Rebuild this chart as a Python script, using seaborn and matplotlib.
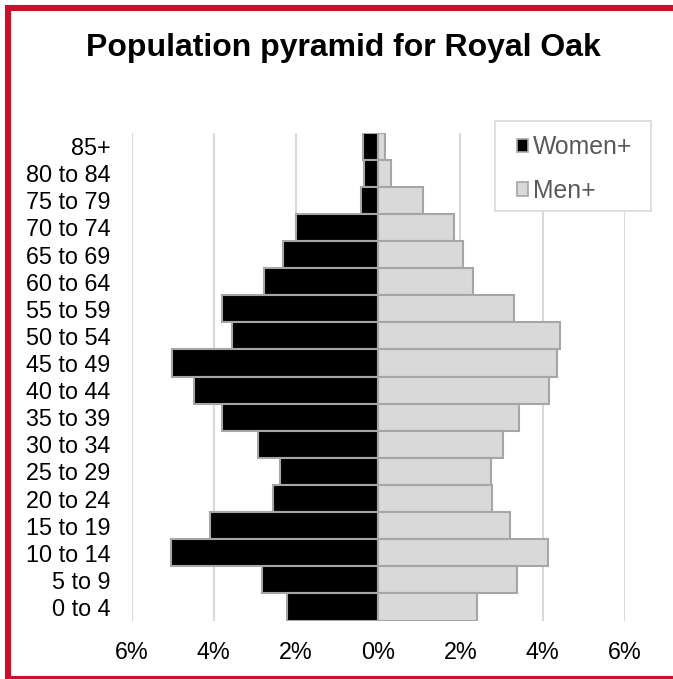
import matplotlib
matplotlib.use("Agg")
import matplotlib.pyplot as plt
from matplotlib.patches import Rectangle, Patch
import seaborn as sns
import pandas as pd

ages = ["85+", "80 to 84", "75 to 79", "70 to 74", "65 to 69", "60 to 64",
        "55 to 59", "50 to 54", "45 to 49", "40 to 44", "35 to 39", "30 to 34",
        "25 to 29", "20 to 24", "15 to 19", "10 to 14", "5 to 9", "0 to 4"]
women = [0.37, 0.35, 0.41, 2.01, 2.31, 2.79, 3.80, 3.57, 5.01, 4.49, 3.79,
         2.92, 2.40, 2.57, 4.09, 5.05, 2.84, 2.22]
men = [0.16, 0.32, 1.10, 1.84, 2.06, 2.31, 3.31, 4.43, 4.36, 4.15, 3.43,
       3.03, 2.74, 2.78, 3.21, 4.13, 3.39, 2.40]
xticks = [-6, -4, -2, 0, 2, 4, 6]
xticklabels = ["6%", "4%", "2%", "0%", "2%", "4%", "6%"]
series_names = ["Women+", "Men+"]

sns.set_style("white")
plt.rcParams['font.family'] = ['Liberation Sans', 'DejaVu Sans']

df = pd.DataFrame({"age": ages,
                   "women": [-v for v in women],
                   "men": men})

W, H = 673, 679
fig = plt.figure(figsize=(W / 100, H / 100), dpi=100)
left, right = 131.7 / W, 624.7 / W
bottom, top = 1 - 620.5 / H, 1 - 132.5 / H
ax = fig.add_axes([left, bottom, right - left, top - bottom])

women_col, men_col = "#000000", "#D9D9D9"
edge_col = "#A6A6A6"
sns.barplot(data=df, x="women", y="age", order=ages, orient="h", ax=ax,
            color=women_col, edgecolor=edge_col, linewidth=1.5, width=1.0,
            saturation=1, errorbar=None, zorder=3)
sns.barplot(data=df, x="men", y="age", order=ages, orient="h", ax=ax,
            color=men_col, edgecolor=edge_col, linewidth=1.5, width=1.0,
            saturation=1, errorbar=None, zorder=3)

fs = 16.8
ax.set_xlim(-6, 6)
ax.set_ylim(len(ages) - 0.5, -0.5)
ax.set_xticks(xticks)
ax.set_xticklabels(xticklabels, fontsize=fs, color="#000000")
ax.tick_params(axis="y", labelsize=fs, colors="#000000", length=0, pad=15.5)
ax.tick_params(axis="x", length=0, pad=15)
ax.set_xlabel("")
ax.set_ylabel("")
for s in ax.spines.values():
    s.set_visible(False)
ax.grid(False)
for xt in xticks:
    ax.axvline(xt, color="#D9D9D9", linewidth=1.5, zorder=1)

fig.text(343 / W, 1 - 48 / H, "Population pyramid for Royal Oak",
         ha="center", va="center", fontsize=23, fontweight="bold", color="#000000")

# legend frame drawn as its own box
frame = Rectangle((495 / W, 1 - 211 / H), (651 - 495) / W, (211 - 121) / H,
                  transform=fig.transFigure, facecolor="white",
                  edgecolor="#D9D9D9", linewidth=1.2, zorder=5)
fig.patches.append(frame)

handles = [Patch(facecolor=women_col, edgecolor=edge_col, linewidth=1.2),
           Patch(facecolor=men_col, edgecolor=edge_col, linewidth=1.2)]
leg = fig.legend(handles, series_names, loc="upper left",
                 bbox_to_anchor=(517 / W, 1 - 135.5 / H),
                 fontsize=17.8, frameon=False,
                 handlelength=0.45, handleheight=0.45, handletextpad=0.2,
                 labelspacing=0.78, borderpad=0, borderaxespad=0,
                 labelcolor="#595959")
leg.set_zorder(6)

border = Rectangle((8 / W, 1 - 679 / H), (700 - 8) / W, (679 - 8) / H,
                   transform=fig.transFigure, fill=False,
                   edgecolor="#C8102E", linewidth=4.4, zorder=10)
fig.patches.append(border)

fig.savefig("out.png", dpi=100)
